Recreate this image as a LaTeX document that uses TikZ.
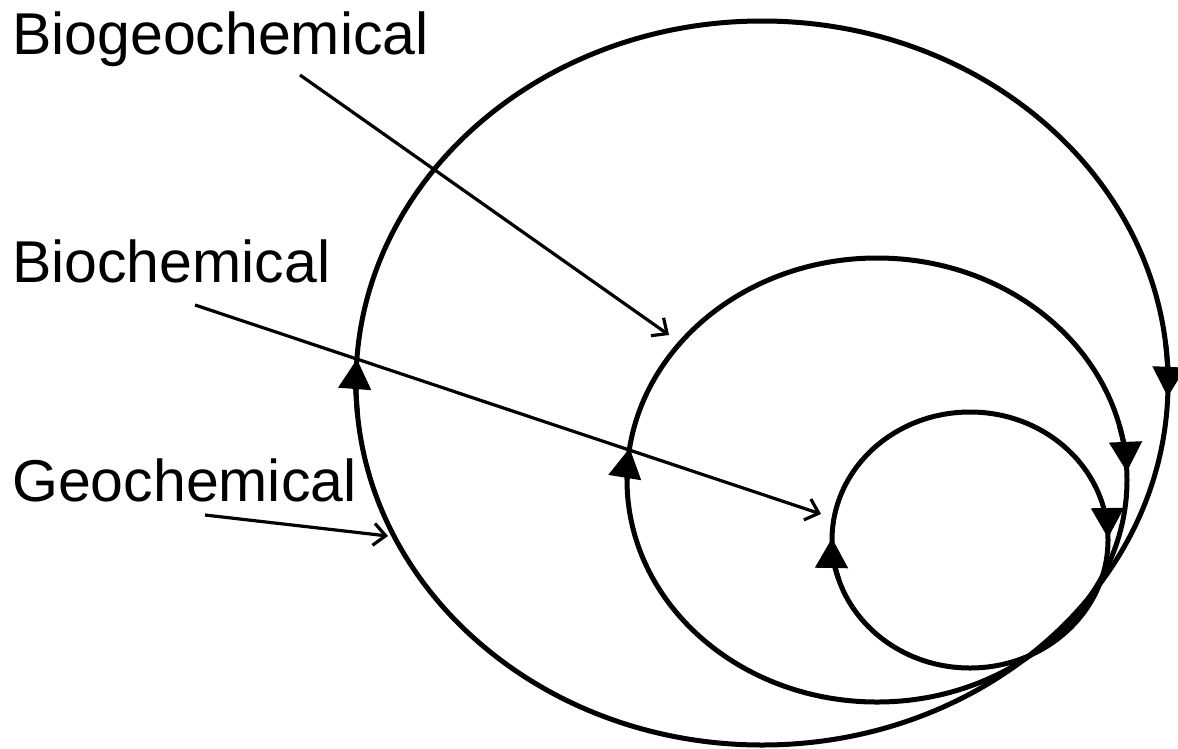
\documentclass[tikz,border=0pt]{standalone}
\usepackage{fontspec}
\setmainfont{Liberation Sans}
\usepackage{tikz}
\usetikzlibrary{arrows.meta, positioning}
\newcommand{\labfont}{\fontsize{59}{70}\selectfont}

\begin{document}
\begin{tikzpicture}[x=1pt, y=-1pt,
  loopline/.style={line width=5pt},
  leader/.style={line width=3.2pt, -{Straight Barb[length=12pt,width=22pt,line width=3.2pt]}},
  cyclelabel/.style={font=\labfont, anchor=base west, inner sep=0pt}]
\useasboundingbox (0,0) rectangle (1178,748);
% Centres of the three nested cycles
\coordinate (geoC) at (762,383);
\coordinate (bgcC) at (877,480);
\coordinate (bchC) at (970,540);
% Cycles
\draw[loopline] (geoC) ellipse[x radius=406, y radius=362];
\draw[loopline] (bgcC) ellipse[x radius=250, y radius=222];
\draw[loopline] (bchC) ellipse[x radius=138, y radius=128];
% Direction marks (clockwise)
\foreach \c/\rx/\ry/\a/\b in {geoC/406/362/175/183.8, geoC/406/362/-6/2.2,
    bgcC/250/222/180/188.3, bgcC/250/222/-14/-2.1,
    bchC/138/128/162/180.9, bchC/138/128/-12/-0.9}
  \draw[loopline, -{Triangle[width=32pt,length=30pt]}] (\c) ++({\a}:{\rx} and {\ry})
    arc[start angle=\a, end angle=\b, x radius=\rx, y radius=\ry];
% Labels
\node[cyclelabel] (bgc) at (12,54) {Biogeochemical};
\node[cyclelabel] (bch) at (12,282) {Biochemical};
\node[cyclelabel] (geo) at (12,501) {Geochemical};
% Leaders
\coordinate (bgcS) at (300,75);  \coordinate (bgcE) at (669,335);
\coordinate (bchS) at (195,305); \coordinate (bchE) at (821,514);
\coordinate (geoS) at (205,515); \coordinate (geoE) at (388,536);
\draw[leader] (bgcS) -- (bgcE);
\draw[leader] (bchS) -- (bchE);
\draw[leader] (geoS) -- (geoE);
\end{tikzpicture}
\end{document}
